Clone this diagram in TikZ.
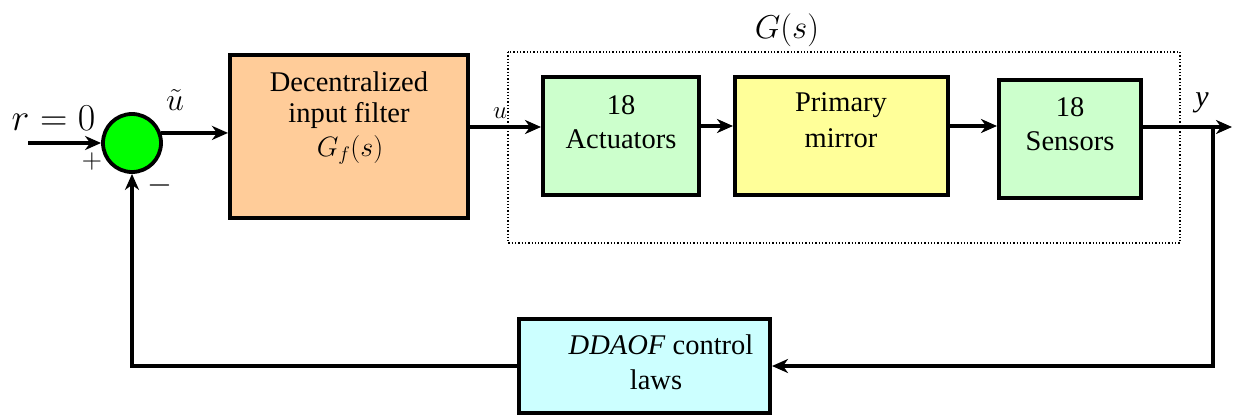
\documentclass[tikz,border=0pt]{standalone}
\usepackage{fix-cm}
\usepackage[no-math]{fontspec}
\setmainfont{LiberationSerif}[Extension=.ttf, UprightFont=*-Regular, ItalicFont=*-Italic, BoldFont=*-Bold, BoldItalicFont=*-BoldItalic]
\newfontfamily\timesf{LiberationSerif}[Extension=.ttf, UprightFont=*-Regular, ItalicFont=*-Italic, BoldFont=*-Bold, BoldItalicFont=*-BoldItalic]
\usetikzlibrary{arrows.meta}
\definecolor{peach}{HTML}{FFCC99}
\definecolor{lgreen}{HTML}{CCFFCC}
\definecolor{lyellow}{HTML}{FFFF99}
\definecolor{lcyan}{HTML}{CCFFFF}
\definecolor{sumgreen}{HTML}{00FF00}
\tikzset{
  blk/.style={draw=black, line width=3.8pt, inner sep=0pt},
  txt/.style={anchor=base, inner sep=0pt, font=\timesf\fontsize{28.5}{33}\selectfont},
  arr/.style={line width=3.4pt, -{Stealth[length=16pt,width=14pt,inset=5pt]}},
  sumnode/.style={circle, draw=black, line width=3.8pt, fill=sumgreen, minimum size=58pt, inner sep=0pt},
  lbl/.style={inner sep=0pt},
}
\begin{document}
\begin{tikzpicture}[x=1pt,y=-1pt]
\useasboundingbox (0,0) rectangle (1233,417);
% G(s) dotted frame
\draw[dotted, line width=1.3pt] (508,52) rectangle (1180,243);
\node[lbl, font=\fontsize{33}{36}\selectfont] (glab) at (787,30) {$G(s)$};
% blocks
\node[blk, fill=peach, minimum width=238.2pt, minimum height=163.2pt] (filter) at (349,136.5) {};
\node[blk, fill=lgreen, minimum width=156.2pt, minimum height=118.2pt] (act) at (621,136) {};
\node[blk, fill=lyellow, minimum width=213.2pt, minimum height=118.2pt] (mir) at (841.5,136) {};
\node[blk, fill=lgreen, minimum width=142.2pt, minimum height=118.2pt] (sen) at (1070,139) {};
\node[blk, fill=lcyan, minimum width=251.2pt, minimum height=94.2pt] (ctl) at (644.5,366) {};
% block texts
\node[txt] (f1) at (349,92) {Decentralized};
\node[txt] (f2) at (349,123) {input filter};
\node[lbl, font=\fontsize{28}{32}\selectfont] (f3) at (350,150) {$G_f(s)$};
\node[txt] (a1) at (621,115) {18};
\node[txt] (a2) at (621,148) {Actuators};
\node[txt] (m1) at (841,112) {Primary};
\node[txt] (m2) at (841,147) {mirror};
\node[txt] (s1) at (1070,117) {18};
\node[txt] (s2) at (1070,150) {Sensors};
\node[txt] (c1) at (661,354) {\textit{DDAOF} control};
\node[txt] (c2) at (656,389) {laws};
% summing junction
\node[sumnode] (sum) at (132,143) {};
\coordinate (rin) at (28,143);
\node[lbl, anchor=base, font=\fontsize{38}{40}\selectfont] (rlab) at (53.5,130) {$r=0$};
\node[lbl, font=\fontsize{28}{30}\selectfont] (plus) at (92,161) {$+$};
\node[lbl, font=\fontsize{32}{34}\selectfont] (minus) at (160,185) {$-$};
\node[lbl, font=\fontsize{32}{34}\selectfont] (ut) at (175,100) {$\tilde u$};
\node[lbl, font=\fontsize{25}{27}\selectfont] (ulab) at (500,113) {$u$};
\node[lbl, font=\timesf\fontsize{30}{32}\selectfont\itshape] (ylab) at (1202,103) {y};
% connectors
\coordinate (ulev) at (0,127);
\coordinate (plev) at (0,126);
\coordinate (yend) at (1232,127);
\coordinate (br) at (1213,127);
\draw[arr] (rin) -- (sum.west);
\draw[arr] (sum.19) -- (sum.19 -| filter.west);
\draw[arr] (filter.east |- ulev) -- (act.west |- ulev);
\draw[arr] (act.east |- plev) -- (mir.west |- plev);
\draw[arr] (mir.east |- plev) -- (sen.west |- plev);
\draw[arr] (sen.east |- yend) -- (yend);
\draw[arr] (br) |- (ctl.east);
\draw[arr] (ctl.west) -| (sum.south);
\end{tikzpicture}
\end{document}
